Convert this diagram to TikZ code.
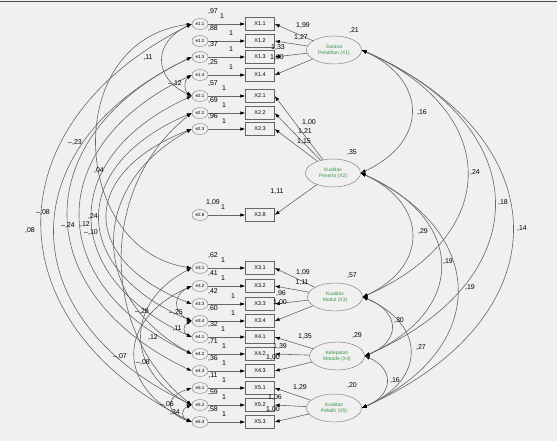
\documentclass[tikz,border=0pt]{standalone}
\usepackage{fontspec}
\setmainfont{Liberation Sans}
\usetikzlibrary{shapes.geometric,arrows.meta,calc}

\definecolor{latgreen}{RGB}{56,150,72}

\begin{document}
\begin{tikzpicture}[x=1pt,y=-1pt,
    obs/.style={draw=black!60, rectangle, minimum width=29pt, minimum height=13pt, inner sep=0pt, font=\fontsize{5.5}{6}\selectfont},
    err/.style={draw=black!50, ellipse, minimum width=16pt, minimum height=11pt, inner sep=0pt, font=\fontsize{4.5}{5}\selectfont},
    lat/.style={draw=black!55, ellipse, minimum width=55pt, minimum height=28pt, inner sep=0pt, align=center, text=latgreen, font=\fontsize{5}{6}\selectfont},
    val/.style={font=\fontsize{7}{8}\selectfont, inner sep=0pt},
    arr/.style={draw=black!60, line width=0.6pt, -{Latex[length=5pt,width=3.5pt,color=black]}},
    cov/.style={draw=black!60, line width=0.6pt, {Latex[length=5pt,width=3.5pt,color=black]}-{Latex[length=5pt,width=3.5pt,color=black]}}]
    \fill[black!6] (0,0) rectangle (557,441);
    \useasboundingbox (0,0) rectangle (557,441);
    \draw[black!70, line width=1.2pt] (0,1.5) -- (557,1.5);

    % indicators with their error terms
    \foreach \n/\t/\y/\ox/\v in {11/1.1/24/222/{,97}, 12/1.2/41/231/{,88}, 13/1.3/57/231/{,37}, 14/1.4/75/231/{,25},
        21/2.1/96/224/{,57}, 22/2.2/113/224/{,69}, 23/2.3/129/224/{,96}, 28/2.8/215/223/{1,09},
        31/3.1/268/223/{,62}, 32/3.2/286/223/{,41}, 33/3.3/304/233/{,42}, 34/3.4/321/233/{,60},
        41/4.1/337/223/{,32}, 42/4.2/354/224/{,71}, 43/4.3/371/224/{,36},
        51/5.1/388/224/{,11}, 52/5.2/405/224/{,59}, 53/5.3/422/224/{,58}} {
        \node[err] (e\n) at (200,\y) {e\t};
        \node[obs] (x\n) at (260,\y) {X\t};
        \draw[arr] (e\n) -- (x\n);
        \node[val] at (\ox,\y-8) {1};
        \node[val] at (213,\y-12) {\v};
    }

    % latent variables
    \node[lat] (X1) at (334,50) {Sarana\\Pelatihan (X1)};
    \node[lat] (X2) at (333,173) {Kualitas\\Peserta (X2)};
    \node[lat] (X3) at (335,297) {Kualitas\\Modul (X3)};
    \node[lat] (X4) at (337,356) {Ketepatan\\Metode (X4)};
    \node[lat] (X5) at (334,408) {Kualitas\\Pelatih (X5)};
    \node[val] at (354,31) {,21};
    \node[val] at (352,153) {,35};
    \node[val] at (352,276) {,57};
    \node[val] at (357,336) {,29};
    \node[val] at (352,386) {,20};

    % loadings
    \foreach \l/\i in {X1/11, X1/12, X1/13, X1/14, X2/21, X2/22, X2/23, X2/28, X3/31, X3/32, X3/33, X3/34,
        X4/41, X4/42, X4/43, X5/51, X5/52, X5/53}
        \draw[arr] (\l) -- (x\i.east);
    \foreach \x/\y/\v in {303/26/{1,99}, 301/38/{1,27}, 278/48/{1,33}, 277/58/{1,00},
        309/123/{1,00}, 305/132/{1,21}, 304/142/{1,15}, 277/192/{1,11},
        303/273/{1,09}, 302/283/{1,11}, 281/294/{,96}, 280/303/{1,00},
        305/337/{1,35}, 280/347/{1,39}, 273/358/{1,00},
        300/388/{1,29}, 275/398/{1,06}, 273/410/{1,00}}
        \node[val] at (\x,\y) {\v};

    % covariances between latents
    \foreach \a/\b/\c in {X1/X2/429, X1/X3/502, X1/X4/537, X1/X5/563, X2/X3/429, X2/X4/466, X2/X5/490,
        X3/X4/399, X3/X5/426, X4/X5/393}
        \draw[cov] (\a.east) .. controls ($(\a.east)!0.25!(\b.east)+(\c-362,0)$) and ($(\a.east)!0.75!(\b.east)+(\c-362,0)$) .. (\b.east);
    \foreach \x/\y/\v in {422/113/{,16}, 475/173/{,24}, 503/203/{,18}, 522/229/{,14}, 423/232/{,29},
        448/262/{,19}, 470/288/{,19}, 399/321/{,30}, 421/348/{,27}, 395/381/{,16}}
        \node[val] at (\x,\y) {\v};

    % covariances between errors
    \foreach \a/\b/\c in {11/21/153, 14/21/184, 11/53/-8, 13/52/9, 13/43/27, 14/42/43, 21/41/59, 22/34/69,
        23/33/79, 23/42/89, 22/52/99, 31/52/125, 32/53/116, 32/34/173, 34/41/183, 51/53/165, 52/53/181}
        \draw[cov] (e\a.west) .. controls ($(e\a.west)!0.25!(e\b.west)+(\c-192,0)$) and ($(e\a.west)!0.75!(e\b.west)+(\c-192,0)$) .. (e\b.west);
    \draw[cov] (e11.west) .. controls (60,40) and (70,250) .. (e31.west);
    \foreach \x/\y/\v in {148/58/{,11}, 175/84/{--,12}, 75/143/{--,23}, 99/171/{,04}, 43/213/{--,08}, 30/231/{,08},
        68/226/{--,24}, 85/225/{,12}, 93/217/{,24}, 91/233/{--,10}, 142/312/{--,29}, 176/313/{--,25},
        177/329/{,11}, 153/338/{,12}, 120/357/{--,07}, 143/363/{--,08}, 167/405/{--,06}, 175/413/{,34}}
        \node[val] at (\x,\y) {\v};
\end{tikzpicture}
\end{document}
